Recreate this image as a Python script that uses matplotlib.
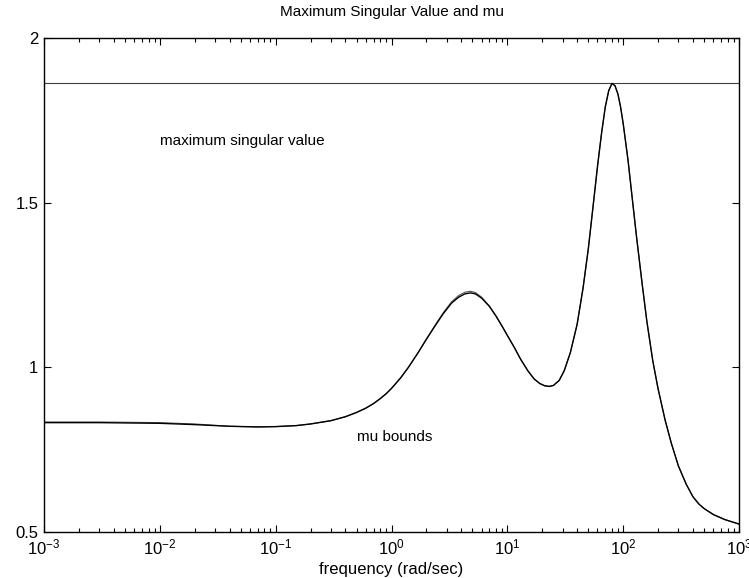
import matplotlib
matplotlib.use("Agg")
import matplotlib.pyplot as plt

plt.rcParams["font.family"] = ["Liberation Sans", "DejaVu Sans"]
plt.rcParams["mathtext.default"] = "regular"

# values
freq = [0.001, 0.003, 0.01, 0.02, 0.04, 0.07, 0.1, 0.15, 0.2, 0.3, 0.4,
        0.5, 0.6, 0.7, 0.8, 0.9, 1.0, 1.2, 1.4, 1.7, 2.0, 2.4, 2.8, 3.3,
        3.8, 4.3, 4.8, 5.3, 6.0, 7.0, 8.0, 9.0, 10, 11.5, 13, 15, 17, 19,
        21, 23, 25, 28, 31, 35, 40, 45, 50, 55, 60, 65, 70, 75, 80, 85, 90,
        95, 100, 110, 120, 130, 145, 160, 180, 200, 230, 260, 300, 350,
        400, 450, 500, 600, 750, 1000]
mu_lower = [0.832, 0.832, 0.830, 0.826, 0.821, 0.819, 0.820, 0.823, 0.828,
            0.838, 0.850, 0.863, 0.876, 0.890, 0.905, 0.920, 0.936, 0.968,
            1.000, 1.045, 1.085, 1.128, 1.163, 1.195, 1.213, 1.223, 1.226,
            1.223, 1.210, 1.185, 1.155, 1.125, 1.097, 1.060, 1.025, 0.990,
            0.965, 0.951, 0.944, 0.942, 0.945, 0.960, 0.990, 1.045, 1.130,
            1.240, 1.360, 1.490, 1.610, 1.710, 1.790, 1.840, 1.862, 1.855,
            1.830, 1.790, 1.740, 1.630, 1.510, 1.400, 1.260, 1.140, 1.020,
            0.935, 0.840, 0.770, 0.700, 0.645, 0.607, 0.585, 0.571, 0.553,
            0.538, 0.524]
# upper bound: only a hair above the lower one at low frequency and on the first peak
mu_upper = [0.834, 0.834, 0.832, 0.828, 0.821, 0.819, 0.820, 0.823, 0.828,
            0.838, 0.850, 0.863, 0.876, 0.890, 0.905, 0.920, 0.936, 0.968,
            1.000, 1.045, 1.086, 1.130, 1.166, 1.199, 1.218, 1.228, 1.231,
            1.227, 1.213, 1.186, 1.155, 1.125, 1.097, 1.060, 1.025, 0.990,
            0.965, 0.951, 0.944, 0.942, 0.945, 0.960, 0.990, 1.045, 1.130,
            1.240, 1.360, 1.490, 1.610, 1.710, 1.790, 1.840, 1.862, 1.855,
            1.830, 1.790, 1.740, 1.630, 1.510, 1.400, 1.260, 1.140, 1.020,
            0.935, 0.840, 0.770, 0.700, 0.645, 0.607, 0.585, 0.571, 0.553,
            0.538, 0.524]
max_sv = 1.863

fig = plt.figure(figsize=(7.49, 5.78), dpi=100)
ax = fig.add_axes([0.0587, 0.0796, 0.928, 0.8547])

ax.axhline(max_sv, color="#404040", linewidth=0.8)
ax.plot(freq, mu_upper, color="#555555", linewidth=0.8)
ax.plot(freq, mu_lower, color="black", linewidth=1.0)

ax.set_xscale("log")
ax.set_xlim(1e-3, 1e3)
ax.set_ylim(0.5, 2)
ax.set_yticks([0.5, 1, 1.5, 2])
ax.set_yticklabels(["0.5", "1", "1.5", "2"])

ax.tick_params(which="both", direction="in", top=True, right=True,
               labelsize=12, width=0.8)
ax.tick_params(which="major", length=5, pad=4)
ax.tick_params(which="minor", length=3)
for s in ax.spines.values():
    s.set_linewidth(1.0)

ax.text(0.01, 1.675, "maximum singular value", fontsize=11)
ax.text(0.5, 0.775, "mu bounds", fontsize=11)

ax.set_title("Maximum Singular Value and mu", fontsize=11, pad=16)
ax.set_xlabel("frequency (rad/sec)", fontsize=12, labelpad=3)

fig.savefig("out.png", dpi=100)
